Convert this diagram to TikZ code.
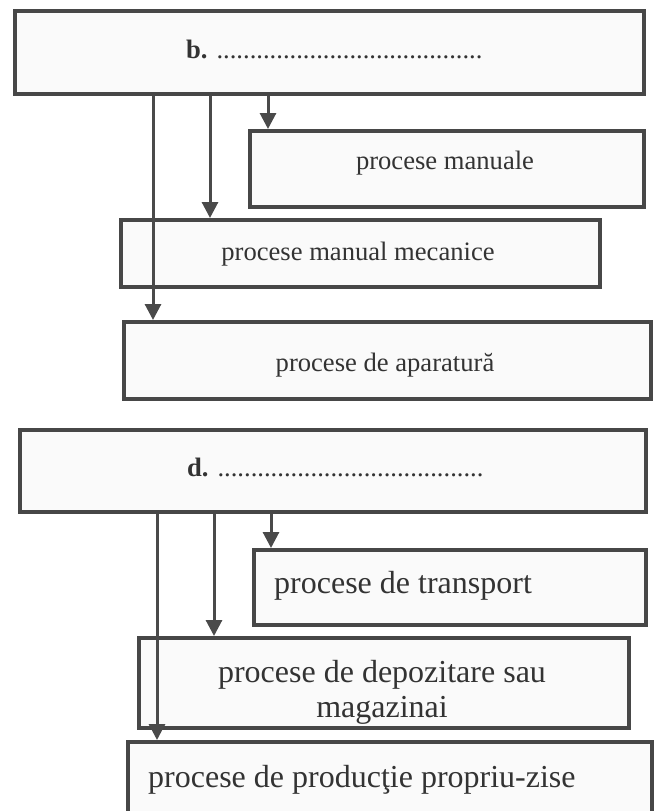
\documentclass[tikz,border=0pt]{standalone}
\usepackage{fontspec}
\setmainfont{Liberation Serif}
\usetikzlibrary{arrows.meta}
\definecolor{boxc}{HTML}{474747}
\definecolor{linec}{HTML}{4A4A4A}
\definecolor{boxfill}{HTML}{FAFAFA}
\definecolor{txt}{HTML}{333333}
\begin{document}
\begin{tikzpicture}[x=1pt,y=-1pt,
  box/.style={draw=boxc, line width=4pt, fill=boxfill, inner sep=0pt, anchor=north west},
  arr/.style={draw=linec, line width=3pt, -{Triangle[width={16pt 0 0},length={16pt 0 0}]}},
  small/.style={font=\fontsize{26.6}{30}\selectfont, text=txt, inner sep=0pt, anchor=base},
  large/.style={font=\fontsize{32}{36}\selectfont, text=txt, inner sep=0pt, anchor=base west}]
\useasboundingbox (0,0) rectangle (657,811);
\fill[white] (0,0) rectangle (657,811);
\clip (0,0) rectangle (657,811);

% ---- section b ----
\node[box, minimum width=629pt, minimum height=83pt] (B) at (13,9) {};
\node[box, minimum width=394pt, minimum height=76pt] (B1) at (248,129) {};
\node[box, minimum width=479pt, minimum height=67pt] (B2) at (119,218) {};
\node[box, minimum width=527pt, minimum height=77pt] (B3) at (122,320) {};

\node[small, anchor=base west] (Bt) at (186,58) {\textbf{b.} ........................................};
\node[small] (B1t) at (445,169) {procese manuale};
\node[small] (B2t) at (358,260) {procese manual mecanice};
\node[small] (B3t) at (385,371) {procese de aparatură};

\draw[arr] (268,0 |- B.south) -- (268,0 |- B1.north);
\draw[arr] (210,0 |- B.south) -- (210,0 |- B2.north);
\draw[arr] (153,0 |- B.south) -- (153,0 |- B3.north);

% ---- section d ----
\node[box, minimum width=626pt, minimum height=82pt] (D) at (18,428) {};
\node[box, minimum width=392pt, minimum height=75pt] (D1) at (252,548) {};
\node[box, minimum width=490pt, minimum height=90pt] (D2) at (137,636) {};
\node[box, minimum width=524pt, minimum height=120pt] (D3) at (126,740) {};

\node[small, anchor=base west] (Dt) at (187,476) {\textbf{d.} ........................................};
\node[large] (D1t) at (274,593) {procese de transport};
\node[large, anchor=base] (D2t) at (382,682) {procese de depozitare sau};
\node[large, anchor=base] (D2u) at (382,717) {magazinai};
\node[large] (D3t) at (148,787) {procese de producţie propriu-zise};

\draw[arr] (271,0 |- D.south) -- (271,0 |- D1.north);
\draw[arr] (214,0 |- D.south) -- (214,0 |- D2.north);
\draw[arr] (157,0 |- D.south) -- (157,0 |- D3.north);
\end{tikzpicture}
\end{document}
